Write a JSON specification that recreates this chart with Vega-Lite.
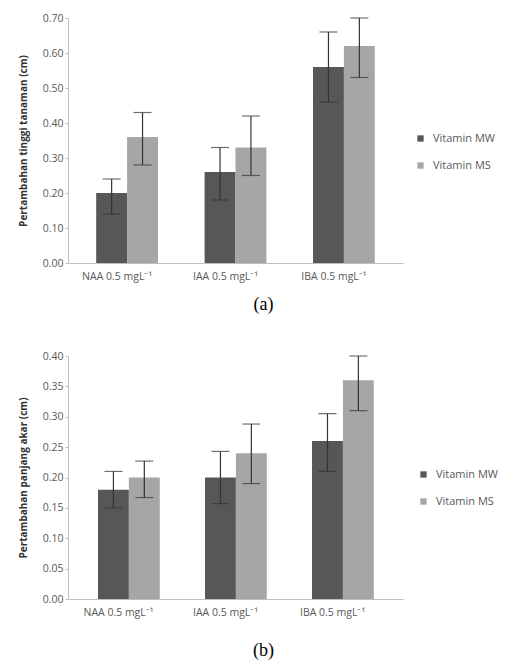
{
  "$schema": "https://vega.github.io/schema/vega-lite/v6.json",
  "padding": {"left": 18, "top": 13, "right": 0, "bottom": 0},
  "background": "white",
  "bounds": "flush",
  "spacing": 93,
  "datasets": {
    "a": [
      {"treatment": "NAA 0.5 mgL⁻¹", "vitamin": "Vitamin MW", "mean": 0.20, "lo": 0.14, "hi": 0.24},
      {"treatment": "NAA 0.5 mgL⁻¹", "vitamin": "Vitamin MS", "mean": 0.36, "lo": 0.28, "hi": 0.43},
      {"treatment": "IAA 0.5 mgL⁻¹", "vitamin": "Vitamin MW", "mean": 0.26, "lo": 0.18, "hi": 0.33},
      {"treatment": "IAA 0.5 mgL⁻¹", "vitamin": "Vitamin MS", "mean": 0.33, "lo": 0.25, "hi": 0.42},
      {"treatment": "IBA 0.5 mgL⁻¹", "vitamin": "Vitamin MW", "mean": 0.56, "lo": 0.46, "hi": 0.66},
      {"treatment": "IBA 0.5 mgL⁻¹", "vitamin": "Vitamin MS", "mean": 0.62, "lo": 0.53, "hi": 0.70}
    ],
    "b": [
      {"treatment": "NAA 0.5 mgL⁻¹", "vitamin": "Vitamin MW", "mean": 0.18, "lo": 0.15, "hi": 0.21},
      {"treatment": "NAA 0.5 mgL⁻¹", "vitamin": "Vitamin MS", "mean": 0.20, "lo": 0.167, "hi": 0.227},
      {"treatment": "IAA 0.5 mgL⁻¹", "vitamin": "Vitamin MW", "mean": 0.20, "lo": 0.157, "hi": 0.243},
      {"treatment": "IAA 0.5 mgL⁻¹", "vitamin": "Vitamin MS", "mean": 0.24, "lo": 0.19, "hi": 0.288},
      {"treatment": "IBA 0.5 mgL⁻¹", "vitamin": "Vitamin MW", "mean": 0.26, "lo": 0.21, "hi": 0.305},
      {"treatment": "IBA 0.5 mgL⁻¹", "vitamin": "Vitamin MS", "mean": 0.36, "lo": 0.31, "hi": 0.40}
    ]
  },
  "resolve": {"legend": {"color": "independent"}, "scale": {"y": "independent"}},
  "config": {
    "view": {"stroke": null},
    "font": "Open Sans",
    "axis": {
      "domainColor": "#bfbfbf",
      "tickColor": "#bfbfbf",
      "labelColor": "#595959",
      "labelFontSize": 10.5,
      "labelOverlap": false,
      "grid": false,
      "titleColor": "#333333",
      "titleFontSize": 10,
      "titleFontWeight": "bold"
    },
    "legend": {
      "labelColor": "#595959",
      "labelFontSize": 11,
      "symbolType": "square",
      "symbolSize": 40,
      "symbolStrokeWidth": 0,
      "rowPadding": 15,
      "labelOffset": 7
    },
    "title": {
      "font": "Liberation Serif",
      "fontSize": 18,
      "fontWeight": "normal",
      "color": "#000000",
      "orient": "bottom",
      "anchor": "middle"
    }
  },
  "vconcat": [
    {
      "width": 335,
      "height": 245,
      "data": {"name": "a"},
      "title": {"text": "(a)", "dx": 28, "offset": 14},
      "encoding": {
        "x": {
          "field": "treatment", "type": "nominal", "sort": null,
          "scale": {"paddingInner": 0.43, "paddingOuter": 0.26},
          "axis": {"title": null, "labelAngle": 0, "ticks": false, "labelPadding": 8, "labelOffset": -10}
        },
        "xOffset": {"field": "vitamin", "type": "nominal", "scale": {"domain": ["Vitamin MW", "Vitamin MS"]}}
      },
      "layer": [
        {
          "mark": {"type": "bar"},
          "encoding": {
            "y": {
              "field": "mean", "type": "quantitative",
              "scale": {"domain": [0, 0.7], "nice": false},
              "axis": {"title": "Pertambahan tinggi tanaman (cm)", "values": [0, 0.1, 0.2, 0.3, 0.4, 0.5, 0.6, 0.7], "format": ".2f", "tickSize": 3, "titlePadding": 14}
            },
            "color": {
              "field": "vitamin", "type": "nominal",
              "scale": {"domain": ["Vitamin MW", "Vitamin MS"], "range": ["#575757", "#a6a6a6"]},
              "legend": {"title": null, "orient": "none", "legendX": 347, "legendY": 115}
            }
          }
        },
        {
          "mark": {"type": "rule", "color": "#333333", "strokeWidth": 1.2},
          "encoding": {
            "y": {"field": "lo", "type": "quantitative", "scale": {"domain": [0, 0.7], "nice": false},
              "axis": {"title": "Pertambahan tinggi tanaman (cm)", "values": [0, 0.1, 0.2, 0.3, 0.4, 0.5, 0.6, 0.7], "format": ".2f", "tickSize": 3, "titlePadding": 14}},
            "y2": {"field": "hi"}
          }
        },
        {
          "mark": {"type": "tick", "color": "#333333", "thickness": 1.2, "size": 18},
          "encoding": {"y": {"field": "lo", "type": "quantitative", "scale": {"domain": [0, 0.7], "nice": false},
              "axis": {"title": "Pertambahan tinggi tanaman (cm)", "values": [0, 0.1, 0.2, 0.3, 0.4, 0.5, 0.6, 0.7], "format": ".2f", "tickSize": 3, "titlePadding": 14}}}
        },
        {
          "mark": {"type": "tick", "color": "#333333", "thickness": 1.2, "size": 18},
          "encoding": {"y": {"field": "hi", "type": "quantitative", "scale": {"domain": [0, 0.7], "nice": false},
              "axis": {"title": "Pertambahan tinggi tanaman (cm)", "values": [0, 0.1, 0.2, 0.3, 0.4, 0.5, 0.6, 0.7], "format": ".2f", "tickSize": 3, "titlePadding": 14}}}
        }
      ]
    },
    {
      "width": 335,
      "height": 243,
      "data": {"name": "b"},
      "title": {"text": "(b)", "dx": 28, "offset": 24},
      "encoding": {
        "x": {
          "field": "treatment", "type": "nominal", "sort": null,
          "scale": {"paddingInner": 0.43, "paddingOuter": 0.28},
          "axis": {"title": null, "labelAngle": 0, "ticks": false, "labelPadding": 8, "labelOffset": -10}
        },
        "xOffset": {"field": "vitamin", "type": "nominal", "scale": {"domain": ["Vitamin MW", "Vitamin MS"]}}
      },
      "layer": [
        {
          "mark": {"type": "bar"},
          "encoding": {
            "y": {
              "field": "mean", "type": "quantitative",
              "scale": {"domain": [0, 0.4], "nice": false},
              "axis": {"title": "Pertambahan panjang akar (cm)", "values": [0, 0.05, 0.1, 0.15, 0.2, 0.25, 0.3, 0.35, 0.4], "format": ".2f", "tickSize": 3, "titlePadding": 14}
            },
            "color": {
              "field": "vitamin", "type": "nominal",
              "scale": {"domain": ["Vitamin MW", "Vitamin MS"], "range": ["#575757", "#a6a6a6"]},
              "legend": {"title": null, "orient": "none", "legendX": 350, "legendY": 113}
            }
          }
        },
        {
          "mark": {"type": "rule", "color": "#333333", "strokeWidth": 1.2},
          "encoding": {
            "y": {"field": "lo", "type": "quantitative", "scale": {"domain": [0, 0.4], "nice": false},
              "axis": {"title": "Pertambahan panjang akar (cm)", "values": [0, 0.05, 0.1, 0.15, 0.2, 0.25, 0.3, 0.35, 0.4], "format": ".2f", "tickSize": 3, "titlePadding": 14}},
            "y2": {"field": "hi"}
          }
        },
        {
          "mark": {"type": "tick", "color": "#333333", "thickness": 1.2, "size": 18},
          "encoding": {"y": {"field": "lo", "type": "quantitative", "scale": {"domain": [0, 0.4], "nice": false},
              "axis": {"title": "Pertambahan panjang akar (cm)", "values": [0, 0.05, 0.1, 0.15, 0.2, 0.25, 0.3, 0.35, 0.4], "format": ".2f", "tickSize": 3, "titlePadding": 14}}}
        },
        {
          "mark": {"type": "tick", "color": "#333333", "thickness": 1.2, "size": 18},
          "encoding": {"y": {"field": "hi", "type": "quantitative", "scale": {"domain": [0, 0.4], "nice": false},
              "axis": {"title": "Pertambahan panjang akar (cm)", "values": [0, 0.05, 0.1, 0.15, 0.2, 0.25, 0.3, 0.35, 0.4], "format": ".2f", "tickSize": 3, "titlePadding": 14}}}
        }
      ]
    }
  ]
}
